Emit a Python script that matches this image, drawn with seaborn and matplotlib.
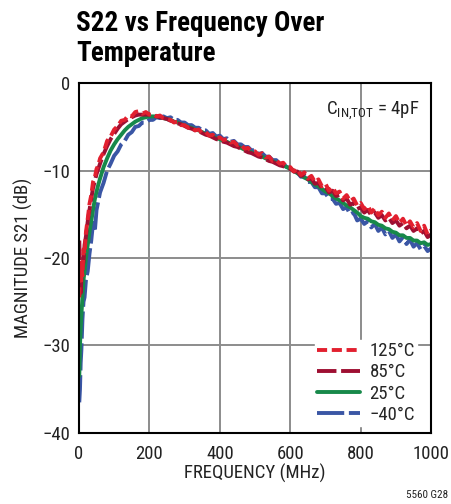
import matplotlib
matplotlib.use('Agg')
import matplotlib.pyplot as plt
from matplotlib import font_manager as fm
import seaborn as sns

# frequency grid (MHz)
freq = [1, 3, 5, 7, 10, 13, 16, 20, 25, 30, 35, 40, 45, 50, 55] + list(range(60, 1001, 10))

# S22 magnitude (dB)
s_125 = [-24.5, -20.5, -23.0, -21.0, -22.0, -19.0, -19.5, -17.0, -15.5, -13.8, -12.8, -11.3, -10.8, -9.8, -9.4,
         -8.6, -7.9, -6.6, -6.1, -5.3, -4.9, -4.3, -4.2, -3.7, -3.8, -3.3, -3.2, -3.5, -3.3, -3.6,
         -3.5, -3.8, -3.7, -4.0, -4.1, -4.2, -4.5, -4.4, -4.8, -4.8, -5.1, -5.0, -5.4, -5.3, -5.7,
         -5.6, -6.0, -5.9, -6.3, -6.2, -6.5, -6.4, -6.8, -6.7, -7.1, -7.0, -7.5, -7.4, -7.8, -7.8,
         -8.2, -8.0, -8.5, -8.4, -8.9, -8.8, -9.2, -9.1, -9.6, -9.6,
         -10.1, -9.8, -10.5, -10.2, -10.9, -10.6, -11.3, -11.0, -11.8, -11.5, -12.3, -11.9, -12.6, -12.4, -13.2,
         -12.8, -13.5, -13.2, -14.0, -13.7, -14.4, -14.0, -14.8, -14.3, -15.1, -14.7, -15.4, -14.9, -15.7, -15.2,
         -16.0, -15.5, -16.3, -15.8, -16.5, -16.0, -16.9, -16.3, -17.3, -16.8]
s_85 = [-18.0, -21.0, -24.0, -22.5, -21.0, -20.5, -18.5, -17.5, -15.8, -14.5, -13.2, -12.0, -11.2, -10.4, -9.8,
        -9.2, -8.1, -7.2, -6.4, -5.8, -5.2, -4.7, -4.4, -4.1, -3.9, -3.7, -3.6, -3.6, -3.6, -3.6,
        -3.7, -3.8, -3.9, -4.0, -4.1, -4.3, -4.4, -4.6, -4.7, -4.9, -5.1, -5.2, -5.4, -5.5, -5.7,
        -5.9, -6.0, -6.2, -6.4, -6.5, -6.7, -6.8, -7.0, -7.2, -7.3, -7.5, -7.7, -7.9, -8.0, -8.2,
        -8.4, -8.5, -8.7, -8.9, -9.0, -9.2, -9.4, -9.5, -9.7, -9.8,
        -10.1, -10.1, -10.6, -10.5, -11.0, -10.9, -11.5, -11.4, -12.0, -11.9, -12.5, -12.3, -12.9, -12.8, -13.4,
        -13.2, -13.9, -13.7, -14.4, -14.2, -14.8, -14.5, -15.1, -14.8, -15.4, -15.1, -15.7, -15.4, -16.0, -15.7,
        -16.3, -16.0, -16.6, -16.3, -16.9, -16.6, -17.2, -16.9, -17.6, -17.3]
s_25 = [-33.5, -30.0, -28.0, -26.5, -24.5, -22.5, -21.5, -20.0, -18.5, -17.0, -15.8, -14.5, -13.3, -12.4, -11.6,
        -10.9, -9.6, -8.6, -7.7, -7.0, -6.4, -5.9, -5.4, -5.0, -4.7, -4.4, -4.2, -4.0, -3.9, -3.8,
        -3.8, -3.8, -3.9, -4.0, -4.1, -4.2, -4.4, -4.5, -4.7, -4.8, -5.0, -5.1, -5.3, -5.4, -5.6,
        -5.8, -5.9, -6.1, -6.3, -6.4, -6.6, -6.7, -6.9, -7.1, -7.2, -7.4, -7.6, -7.8, -7.9, -8.1,
        -8.3, -8.4, -8.6, -8.8, -8.9, -9.1, -9.3, -9.4, -9.6, -9.8,
        -10.0, -10.3, -10.5, -10.8, -11.0, -11.3, -11.6, -11.8, -12.1, -12.4, -12.6, -12.9, -13.2, -13.4, -13.7,
        -14.0, -14.2, -14.5, -14.8, -15.2, -15.4, -15.5, -15.8, -15.9, -16.2, -16.3, -16.6, -16.7, -17.0, -17.1,
        -17.4, -17.4, -17.7, -17.7, -18.0, -18.0, -18.3, -18.2, -18.5, -18.4]
s_m40 = [-36.5, -35.0, -32.0, -30.5, -27.0, -25.0, -24.5, -22.5, -21.5, -19.5, -18.0, -16.0, -17.0, -14.5, -13.5,
         -12.5, -11.4, -10.0, -9.2, -8.3, -7.8, -7.0, -6.6, -5.9, -5.6, -5.0, -4.9, -4.5, -4.5, -4.2,
         -4.2, -3.9, -4.0, -3.8, -4.0, -3.9, -4.2, -4.2, -4.5, -4.5, -4.8, -4.8, -5.1, -5.1, -5.4,
         -5.4, -5.8, -5.7, -6.1, -6.0, -6.4, -6.3, -6.7, -6.6, -7.0, -7.0, -7.3, -7.3, -7.7, -7.6,
         -8.1, -8.0, -8.4, -8.4, -8.8, -8.8, -9.2, -9.2, -9.6, -9.7,
         -10.1, -10.2, -10.7, -10.7, -11.3, -11.3, -11.9, -11.9, -12.6, -12.6, -13.2, -13.2, -13.8, -13.7, -14.4,
         -14.2, -15.0, -14.8, -15.7, -15.5, -16.1, -15.8, -16.5, -16.1, -16.9, -16.5, -17.3, -16.9, -17.7, -17.3,
         -18.1, -17.6, -18.4, -17.9, -18.7, -18.3, -19.0, -18.6, -19.2, -18.9]

labels = ['125°C', '85°C', '25°C', '\u221240°C']
colors = ['#e2202f', '#9e0f32', '#17894a', '#3a56a5']
dashes = [(2.6, 1.2), (5, 1.2), (), (7, 1.2)]

# pick a condensed sans that is present
avail = {f.name for f in fm.fontManager.ttflist}
narrow = next(n for n in ['Roboto Condensed', 'Archivo Narrow', 'PT Sans Narrow',
                          'Liberation Sans Narrow', 'DejaVu Sans'] if n in avail)

sns.set_style('white')
plt.rcParams['font.family'] = [narrow, 'DejaVu Sans']
plt.rcParams['mathtext.fontset'] = 'custom'
plt.rcParams['mathtext.rm'] = narrow
plt.rcParams['axes.unicode_minus'] = True

fig = plt.figure(figsize=(4.51, 5.04), dpi=100)
ax = fig.add_axes([0.175, 0.141, 0.781, 0.694])

series = [s_125, s_85, s_25, s_m40]
# draw -40 first so 125 ends up on top
for i in [3, 2, 1, 0]:
    sns.lineplot(x=freq, y=series[i], ax=ax, color=colors[i], lw=2.8,
                 label=labels[i], dashes=False)
    line = ax.lines[-1]
    if dashes[i]:
        line.set_dashes(dashes[i])

ax.set_xlim(0, 1000)
ax.set_ylim(-40, 0)
ax.set_xticks(range(0, 1001, 200))
ax.set_yticks(range(-40, 1, 10))
ax.grid(True, color='#8c8c8c', lw=1.4)
for sp in ax.spines.values():
    sp.set_color('black')
    sp.set_linewidth(1.5)
ax.tick_params(length=0, labelsize=13.5, colors='#222222')
ax.tick_params(axis='x', pad=9)
ax.tick_params(axis='y', pad=6)
ax.set_xlabel('FREQUENCY (MHz)', fontsize=13.5, color='#222222', labelpad=0)
ax.set_ylabel('MAGNITUDE S21 (dB)', fontsize=13.5, color='#222222', labelpad=7)

handles, labs = ax.get_legend_handles_labels()
order = [labs.index(l) for l in labels]
leg = ax.legend([handles[k] for k in order], [labs[k] for k in order],
                loc='lower right', fontsize=13.5, frameon=True, framealpha=1,
                edgecolor='white', fancybox=False, handlelength=2.3,
                handletextpad=0.5, labelspacing=0.17, borderpad=0.1,
                bbox_to_anchor=(0.986, -0.006))
leg.set_zorder(2.4)

ax.text(0.965, 0.955, r'C$_{\rm IN{,}TOT}$ = 4pF', transform=ax.transAxes,
        ha='right', va='top', fontsize=13.5, color='#222222')

fig.text(76 / 451, 1 - 10 / 504, 'S22 vs Frequency Over\nTemperature',
         ha='left', va='top', fontsize=19.5, fontweight='bold', linespacing=1.12,
         color='black')
fig.text(448 / 451, 1 - 495 / 504, '5560 G28', ha='right', va='center',
         fontsize=8, color='#222222')

fig.savefig('out.png', dpi=100)
